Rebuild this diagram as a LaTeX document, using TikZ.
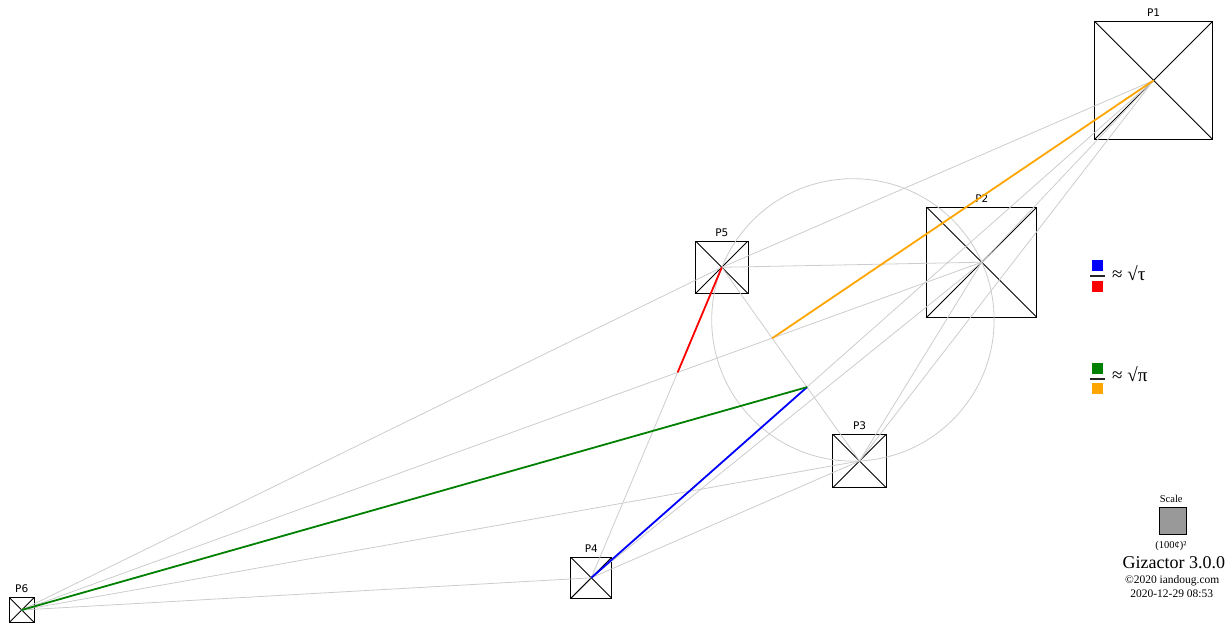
\documentclass[tikz,border=0pt]{standalone}
\usepackage{fontspec}
\setmainfont{Liberation Serif}
\newfontfamily\plotfont{DejaVu Sans}
\usepackage{xcolor}
\usepackage{tikz}
\usetikzlibrary{positioning,calc}
\definecolor{linkgray}{RGB}{204,204,204}
\definecolor{webgreen}{RGB}{0,128,0}
\definecolor{weborange}{RGB}{255,165,0}
\definecolor{scalegray}{RGB}{153,153,153}

\begin{document}
\begin{tikzpicture}[x=1pt, y=-1pt,
		parcel/.style={draw, line width=1pt, inner sep=0pt, outer sep=0pt, minimum size=#1,
			path picture={\draw[line width=0.9pt] (path picture bounding box.north west) -- (path picture bounding box.south east)
				(path picture bounding box.north east) -- (path picture bounding box.south west);}},
		every label/.style={font=\plotfont\fontsize{10.5}{12}\selectfont, label distance=1pt},
		link/.style={draw=linkgray, line width=0.8pt},
		ray/.style={line width=1.8pt},
		swatch/.style={minimum size=11pt, inner sep=0pt, outer sep=0pt},
		fracbar/.style={minimum width=15pt, minimum height=1.6pt, inner sep=0pt, fill=black!85},
		legend/.style={font=\fontsize{19}{22}\selectfont, anchor=base west, inner sep=0pt},
		foot/.style={anchor=base, inner sep=0pt, font=\fontsize{#1}{#1}\selectfont}]
	\useasboundingbox (0,0) rectangle (1231,626);

	% points
	\node[parcel=118.7pt, label=above:P1] (P1) at (1153.6,80.4) {};
	\node[parcel=110.3pt, label=above:P2] (P2) at (981.8,262.2) {};
	\node[parcel=53.3pt, label=above:P3] (P3) at (859.5,461) {};
	\node[parcel=40.7pt, label=above:P4] (P4) at (591.3,577.8) {};
	\node[parcel=52.6pt, label=above:P5] (P5) at (721.8,267.3) {};
	\node[parcel=25pt, label=above:P6] (P6) at (21.7,610) {};

	% links
	\foreach \a/\b in {P1/P2,P1/P3,P1/P4,P1/P5,P2/P3,P2/P4,P2/P5,P2/P6,P3/P4,P3/P5,P3/P6,P4/P5,P4/P6,P5/P6}
		\draw[link] (\a.center) -- (\b.center);

	% circle through P5, P2, P3
	\coordinate (ringc) at (852.9,319.9);
	\draw[link] (ringc) circle[radius=141.2pt];

	\coordinate (xred) at (intersection of P5.center--P4.center and P6.center--P2.center);
	\coordinate (xorange) at (intersection of P5.center--P3.center and P6.center--P2.center);
	\coordinate (xgreen) at (intersection of P5.center--P3.center and P4.center--P1.center);

	\draw[ray, red] (P5.center) -- (xred);
	\draw[ray, weborange] (P1.center) -- (xorange);
	\draw[ray, blue] (P4.center) -- (xgreen);
	\draw[ray, webgreen] (P6.center) -- (xgreen);

	% ratios
	\node[swatch, fill=blue] (tauup) at (1097,265.5) {};
	\node[swatch, fill=red] (taudown) at (1097,286.2) {};
	\node[fracbar] (taubar) at ($(tauup)!0.5!(taudown)$) {};
	\node[legend] (tautext) at (1112,280.7) {≈ √τ};

	\node[swatch, fill=webgreen] (piup) at (1097,368.7) {};
	\node[swatch, fill=weborange] (pidown) at (1097,388.8) {};
	\node[fracbar] (pibar) at ($(piup)!0.5!(pidown)$) {};
	\node[legend] (pitext) at (1112,381.7) {≈ √π};

	% scale and footer
	\node[foot=10.5] (scaletitle) at (1171.2,502.7) {Scale};
	\node[draw, fill=scalegray, minimum size=27pt, inner sep=0pt] (scalebox) at (1172.2,520.3) {};
	\node[foot=10.5] (scaleunit) at (1171,548.3) {(100¢)²};
	\node[foot=18] (brand) at (1173.8,568.3) {Gizactor 3.0.0};
	\node[foot=11.5] (copy) at (1172.2,583.3) {©2020 iandoug.com};
	\node[foot=11.5] (stamp) at (1171.7,597.3) {2020-12-29 08:53};
\end{tikzpicture}
\end{document}
